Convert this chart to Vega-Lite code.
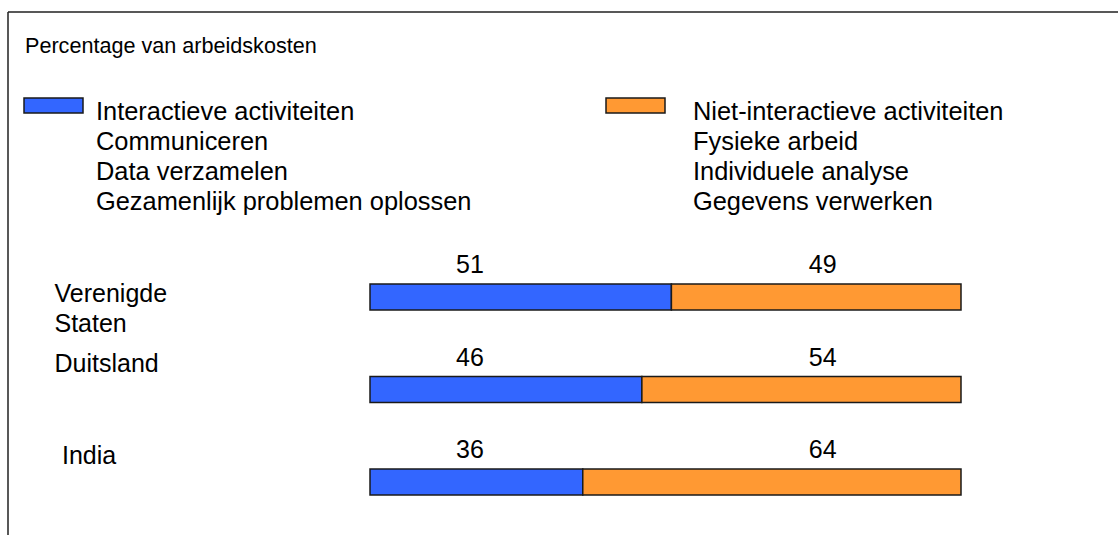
{
  "$schema": "https://vega.github.io/schema/vega-lite/v6.json",
  "width": 1110,
  "height": 523,
  "autosize": {"type": "none"},
  "padding": {"left": 8, "top": 12, "right": 0, "bottom": 0},
  "background": "white",
  "config": {
    "font": "Liberation Sans",
    "view": {"stroke": "#222222", "strokeWidth": 1.5, "strokeDash": [1110, 1633, 523, 0]}
  },
  "title": {
    "text": "Percentage van arbeidskosten",
    "anchor": "start",
    "frame": "group",
    "fontSize": 21.6,
    "fontWeight": "normal",
    "color": "black",
    "baseline": "alphabetic",
    "offset": 0,
    "dx": 17,
    "dy": 63
  },
  "data": {
    "values": [
      {"country": "Verenigde Staten", "category": "Interactieve activiteiten", "value": 51},
      {"country": "Verenigde Staten", "category": "Niet-interactieve activiteiten", "value": 49},
      {"country": "Duitsland", "category": "Interactieve activiteiten", "value": 46},
      {"country": "Duitsland", "category": "Niet-interactieve activiteiten", "value": 54},
      {"country": "India", "category": "Interactieve activiteiten", "value": 36},
      {"country": "India", "category": "Niet-interactieve activiteiten", "value": 64}
    ]
  },
  "layer": [
    {
      "mark": {"type": "bar", "stroke": "#1a1a1a", "strokeWidth": 1.5},
      "encoding": {
        "y": {
          "field": "country",
          "type": "nominal",
          "sort": null,
          "scale": {"type": "band", "range": [238.75, 516.25], "paddingInner": 0.72, "paddingOuter": 0.36},
          "axis": {
            "title": null,
            "domain": false,
            "ticks": false,
            "grid": false,
            "labelAlign": "left",
            "labelBaseline": "middle",
            "labelFontSize": 25,
            "labelColor": "black",
            "labelLineHeight": 30,
            "labelLimit": 0,
            "labelOverlap": false,
            "labelBound": false,
            "labelExpr": "datum.value == 'Verenigde Staten' ? ['Verenigde', 'Staten'] : datum.value",
            "labelPadding": {"condition": {"test": "datum.value == 'India'", "value": -53.5}, "value": -46},
            "labelOffset": {"condition": {"test": "datum.value == 'Verenigde Staten'", "value": -3}, "value": -26}
          }
        },
        "x": {
          "field": "value",
          "type": "quantitative",
          "stack": "zero",
          "scale": {"domain": [0, 100], "range": [362, 953], "nice": false, "zero": false},
          "axis": null
        },
        "color": {
          "field": "category",
          "type": "nominal",
          "scale": {
            "domain": ["Interactieve activiteiten", "Niet-interactieve activiteiten"],
            "range": ["#3366FF", "#FF9933"]
          },
          "legend": {
            "title": null,
            "orient": "none",
            "legendX": 15,
            "legendY": 57,
            "direction": "horizontal",
            "columns": 2,
            "columnPadding": 131,
            "padding": 0,
            "symbolType": "M-1,-0.054H1V0.454H-1Z",
            "symbolSize": 3481,
            "symbolStrokeColor": "#1a1a1a",
            "symbolStrokeWidth": 1.5,
            "symbolOpacity": 1,
            "labelFontSize": 25.4,
            "labelColor": "black",
            "labelLimit": 1000,
            "labelOffset": 12,
            "labelBaseline": "top",
            "labelExpr": "datum.label == 'Interactieve activiteiten' ? ['Interactieve activiteiten', 'Communiceren', 'Data verzamelen', 'Gezamenlijk problemen oplossen'] : ['Niet-interactieve activiteiten', 'Fysieke arbeid', 'Individuele analyse', 'Gegevens verwerken']",
            "encode": {
              "labels": {
                "update": {
                  "lineHeight": {"value": 30},
                  "dx": {"signal": "datum.label == 'Niet-interactieve activiteiten' ? 15 : 0"}
                }
              }
            }
          }
        },
        "order": {"field": "category", "sort": "ascending"}
      }
    },
    {
      "transform": [{"filter": "datum.category == 'Interactieve activiteiten'"}],
      "mark": {"type": "text", "fontSize": 25, "color": "black", "dy": -32, "baseline": "middle", "align": "center"},
      "encoding": {
        "y": {"field": "country", "type": "nominal", "sort": null},
        "x": {"datum": 16.9},
        "text": {"field": "value", "type": "quantitative"}
      }
    },
    {
      "transform": [{"filter": "datum.category == 'Niet-interactieve activiteiten'"}],
      "mark": {"type": "text", "fontSize": 25, "color": "black", "dy": -32, "baseline": "middle", "align": "center"},
      "encoding": {
        "y": {"field": "country", "type": "nominal", "sort": null},
        "x": {"datum": 76.6},
        "text": {"field": "value", "type": "quantitative"}
      }
    }
  ]
}
